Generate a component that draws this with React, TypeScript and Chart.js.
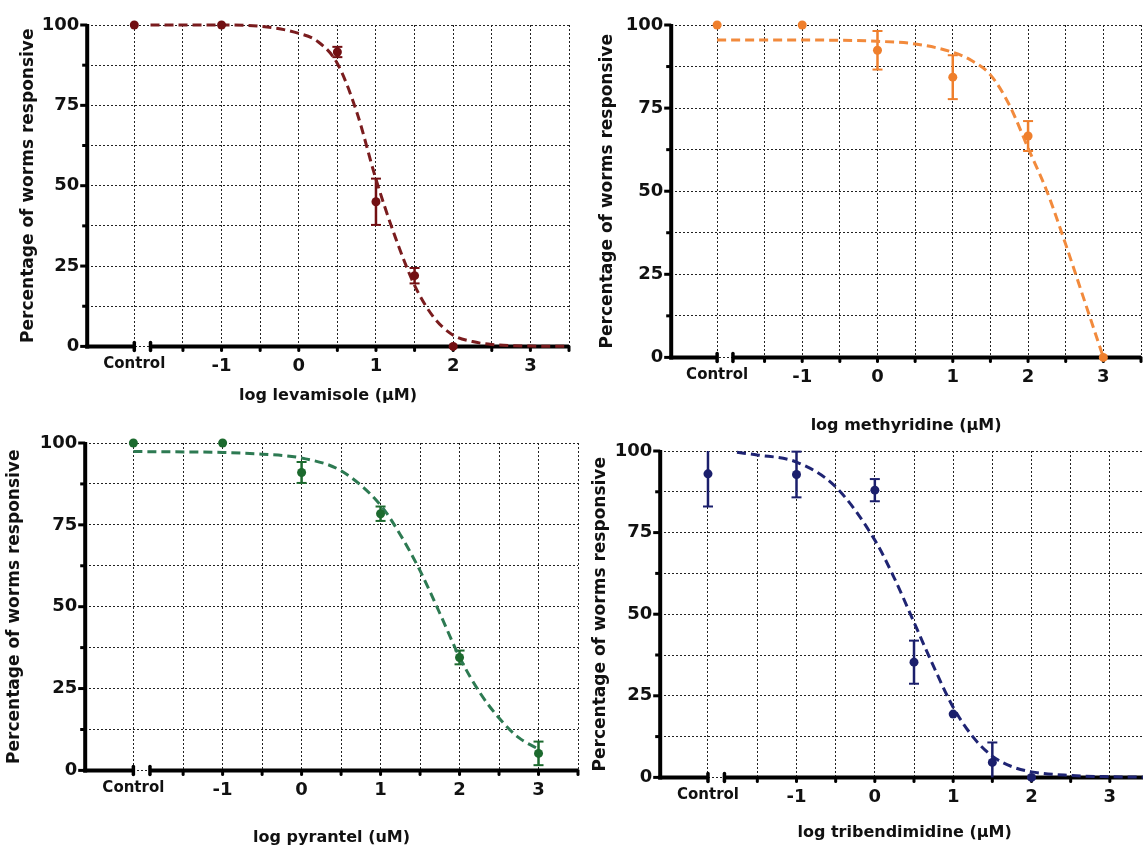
import React, { useEffect, useRef } from "react";
import { Chart, registerables } from "chart.js";

Chart.register(...registerables);

// ---------- shared axis definitions ----------
const X_MIN = -2.74;
const X_MAX = 3.5;
const CONTROL_POS = -2.13; // where the "Control" column sits on the broken axis
const BREAK_POS = -1.92; // start of the log-dose part of the axis
const X_GRID_VALUES = [-1.5, -1, -0.5, 0, 0.5, 1, 1.5, 2, 2.5, 3, 3.5];
const X_TICK_LABELS = ["-1", "0", "1", "2", "3"];
const CONTROL_LABEL = "Control";
const Y_TICK_LABELS = [0, 25, 50, 75, 100];
const Y_TITLE = "Percentage of worms responsive";

// ---------- levamisole ----------
const LEV_DOSES = ["Control", -1, 0.5, 1, 1.5, 2];
const LEV_MEAN = [100, 100, 91.6, 45, 22, 0];
const LEV_ERR = [0, 0, 1.6, 7.2, 2.4, 0];
const LEV_FIT_X = [-1.92, -1.5, -1, -0.5, 0, 0.25, 0.5, 0.75, 1, 1.25, 1.5, 1.75, 2, 2.25, 2.5, 3, 3.5];
const LEV_FIT_Y = [100, 100, 100, 99.6, 97.4, 94.8, 88, 73, 52, 34, 19, 9, 3.5, 1.5, 0.6, 0.1, 0];

// ---------- methyridine ----------
const MET_DOSES = ["Control", -1, 0, 1, 2, 3];
const MET_MEAN = [100, 100, 92.4, 84.3, 66.6, 0];
const MET_ERR = [0, 0, 5.8, 6.6, 4.5, 0];
const MET_FIT_X = [CONTROL_POS, -1, -0.5, 0, 0.5, 1, 1.25, 1.5, 1.75, 2, 2.25, 2.5, 2.75, 3];
const MET_FIT_Y = [95.5, 95.5, 95.4, 95.1, 94.3, 91.8, 89.3, 85, 76, 63, 50, 34, 17, 0];

// ---------- pyrantel ----------
const PYR_DOSES = ["Control", -1, 0, 1, 2, 3];
const PYR_MEAN = [100, 100, 91, 78.4, 34.5, 5.2];
const PYR_ERR = [0, 0, 3.2, 2.2, 2.1, 3.6];
const PYR_FIT_X = [CONTROL_POS, -1, -0.5, 0, 0.5, 1, 1.25, 1.5, 1.75, 2, 2.25, 2.5, 2.75, 3];
const PYR_FIT_Y = [97.4, 97.1, 96.6, 95.4, 91.5, 81, 72, 61, 48, 34.6, 24, 16, 10, 6.5];

// ---------- tribendimidine ----------
const TRI_DOSES = ["Control", -1, 0, 0.5, 1, 1.5, 2];
const TRI_MEAN = [93, 92.8, 88, 35.3, 19.4, 4.6, 0];
const TRI_ERR = [10, 7, 3.4, 6.6, 0, 6.1, 0];
const TRI_FIT_X = [-1.76, -1.5, -1, -0.5, 0, 0.25, 0.5, 0.75, 1, 1.25, 1.5, 1.75, 2, 2.5, 3, 3.5];
const TRI_FIT_Y = [99.6, 98.8, 96.6, 89, 72.7, 61, 47.5, 34, 21.5, 12.5, 6.5, 3.3, 1.7, 0.6, 0.2, 0.05];

const FONT = "'DejaVu Sans', 'Liberation Sans', Arial, sans-serif";
const Y_TITLE_SIZE = 17;
const X_TITLE_SIZE = 16;
const PAD_TOP = 20;
const PAD_RIGHT = 10;

type PanelCfg = {
  key: string;
  doses: (string | number)[];
  mean: number[];
  err: number[];
  fitX: number[];
  fitY: number[];
  xTitle: string;
  pointColor: string;
  lineColor: string;
  // layout (chart area in page pixels)
  left: number;
  top: number;
  right: number;
  bottom: number;
  yTitleX: number;
  xTitleY: number;
};

const PANELS: PanelCfg[] = [
  {
    key: "lev", doses: LEV_DOSES, mean: LEV_MEAN, err: LEV_ERR, fitX: LEV_FIT_X, fitY: LEV_FIT_Y,
    xTitle: "log levamisole (µM)", pointColor: "#720f12", lineColor: "#7a1c1e",
    left: 87, top: 25, right: 569, bottom: 346, yTitleX: 28, xTitleY: 395,
  },
  {
    key: "met", doses: MET_DOSES, mean: MET_MEAN, err: MET_ERR, fitX: MET_FIT_X, fitY: MET_FIT_Y,
    xTitle: "log methyridine (µM)", pointColor: "#ef7f2c", lineColor: "#f28a3c",
    left: 671, top: 25, right: 1141, bottom: 357, yTitleX: 607, xTitleY: 425,
  },
  {
    key: "pyr", doses: PYR_DOSES, mean: PYR_MEAN, err: PYR_ERR, fitX: PYR_FIT_X, fitY: PYR_FIT_Y,
    xTitle: "log pyrantel (uM)", pointColor: "#1c6a2e", lineColor: "#2d7a52",
    left: 85, top: 443, right: 578, bottom: 770, yTitleX: 14, xTitleY: 837,
  },
  {
    key: "tri", doses: TRI_DOSES, mean: TRI_MEAN, err: TRI_ERR, fitX: TRI_FIT_X, fitY: TRI_FIT_Y,
    xTitle: "log tribendimidine (µM)", pointColor: "#1b1f6c", lineColor: "#1f2473",
    left: 660, top: 451, right: 1149, bottom: 777, yTitleX: 600, xTitleY: 832,
  },
];

const dosePos = (d: string | number) => (d === "Control" ? CONTROL_POS : (d as number));

function Panel({ cfg }: { cfg: PanelCfg }) {
  const ref = useRef<HTMLCanvasElement>(null);
  const yAxisW = cfg.left - cfg.yTitleX + (Y_TITLE_SIZE * 1.2) / 2;
  const xAxisH = cfg.xTitleY + (X_TITLE_SIZE * 1.2) / 2 - cfg.bottom;
  const W = Math.round(yAxisW + (cfg.right - cfg.left) + PAD_RIGHT);
  const H = Math.round(PAD_TOP + (cfg.bottom - cfg.top) + xAxisH);
  const canvasLeft = cfg.left - yAxisW;
  const canvasTop = cfg.top - PAD_TOP;

  useEffect(() => {
    const canvas = ref.current!;
    const axesPlugin = {
      id: "axesAndErrors" + cfg.key,
      beforeDatasetsDraw(chart: any) {
        const ctx = chart.ctx as CanvasRenderingContext2D;
        const xs = chart.scales.x;
        const ys = chart.scales.y;
        const { left, right, top, bottom } = chart.chartArea;
        ctx.save();
        ctx.strokeStyle = "#000";
        ctx.fillStyle = "#000";
        // y axis line
        ctx.lineCap = "butt";
        ctx.lineWidth = 4;
        ctx.beginPath();
        ctx.moveTo(left, top - 1);
        ctx.lineTo(left, bottom + 2);
        ctx.stroke();
        // y ticks
        ctx.lineWidth = 3;
        for (let v = 0; v <= 100; v += 12.5) {
          const py = ys.getPixelForValue(v);
          const len = v % 25 === 0 ? 7 : 5;
          ctx.beginPath();
          ctx.moveTo(left - len, py);
          ctx.lineTo(left, py);
          ctx.stroke();
        }
        // x axis (broken)
        const cx = xs.getPixelForValue(CONTROL_POS);
        const bx = xs.getPixelForValue(BREAK_POS);
        ctx.lineWidth = 4;
        ctx.beginPath();
        ctx.moveTo(left - 2, bottom);
        ctx.lineTo(cx, bottom);
        ctx.moveTo(bx, bottom);
        ctx.lineTo(right, bottom);
        ctx.stroke();
        // break caps
        ctx.lineCap = "round";
        ctx.lineWidth = 3.5;
        [cx, bx].forEach((px) => {
          ctx.beginPath();
          ctx.moveTo(px, bottom - 4);
          ctx.lineTo(px, bottom + 4);
          ctx.stroke();
        });
        // x ticks
        ctx.lineWidth = 3;
        X_GRID_VALUES.forEach((v) => {
          const px = xs.getPixelForValue(v);
          ctx.beginPath();
          ctx.moveTo(px, bottom);
          ctx.lineTo(px, bottom + 4);
          ctx.stroke();
        });
        // error bars
        ctx.strokeStyle = cfg.pointColor;
        ctx.lineCap = "butt";
        cfg.doses.forEach((d, i) => {
          const e = cfg.err[i];
          if (!e) return;
          const px = xs.getPixelForValue(dosePos(d));
          const hi = cfg.mean[i] + e;
          const lo = cfg.mean[i] - e;
          const pyHi = ys.getPixelForValue(Math.min(100, hi));
          const pyLo = ys.getPixelForValue(Math.max(0, lo));
          ctx.lineWidth = 2.5;
          ctx.beginPath();
          ctx.moveTo(px, pyHi);
          ctx.lineTo(px, pyLo);
          ctx.stroke();
          ctx.lineWidth = 2;
          if (hi <= 100) {
            ctx.beginPath();
            ctx.moveTo(px - 5, pyHi);
            ctx.lineTo(px + 5, pyHi);
            ctx.stroke();
          }
          if (lo >= 0) {
            ctx.beginPath();
            ctx.moveTo(px - 5, pyLo);
            ctx.lineTo(px + 5, pyLo);
            ctx.stroke();
          }
        });
        ctx.restore();
      },
    };

    const chart = new Chart(canvas, {
      type: "line",
      data: {
        datasets: [
          {
            data: cfg.doses.map((d, i) => ({ x: dosePos(d), y: cfg.mean[i] })),
            showLine: false,
            pointRadius: 4.5,
            pointBackgroundColor: cfg.pointColor,
            pointBorderColor: cfg.pointColor,
            pointBorderWidth: 0,
            clip: false as any,
          },
          {
            data: cfg.fitX.map((x, i) => ({ x, y: cfg.fitY[i] })),
            borderColor: cfg.lineColor,
            borderWidth: 3,
            borderDash: [9, 5],
            pointRadius: 0,
            fill: false,
            cubicInterpolationMode: "monotone",
            clip: false as any,
          },
        ],
      },
      options: {
        responsive: false,
        animation: false,
        events: [],
        devicePixelRatio: 1,
        layout: { padding: { top: PAD_TOP, right: PAD_RIGHT, left: 0, bottom: 0 } },
        plugins: { legend: { display: false }, tooltip: { enabled: false } },
        scales: {
          x: {
            type: "linear",
            min: X_MIN,
            max: X_MAX,
            afterBuildTicks: (scale: any) => {
              scale.ticks = [CONTROL_POS, ...X_GRID_VALUES].map((v) => ({ value: v }));
            },
            afterFit: (scale: any) => {
              scale.height = xAxisH;
            },
            grid: { color: "#222", lineWidth: 1, drawTicks: false },
            border: { display: false, dash: [2, 2] },
            ticks: {
              autoSkip: false,
              maxRotation: 0,
              minRotation: 0,
              padding: 9,
              color: "#111",
              font: (c: any) =>
                c.tick && c.tick.value === CONTROL_POS
                  ? { family: FONT, size: 15, weight: "bold" }
                  : { family: FONT, size: 18, weight: "bold" },
              callback: (v: any) => {
                if (v === CONTROL_POS) return CONTROL_LABEL;
                const s = String(v);
                return X_TICK_LABELS.includes(s) ? s : "";
              },
            },
            title: {
              display: true,
              text: cfg.xTitle,
              color: "#111",
              padding: 0,
              font: { family: FONT, size: X_TITLE_SIZE, weight: "bold" },
            },
          },
          y: {
            type: "linear",
            min: 0,
            max: 100,
            afterFit: (scale: any) => {
              scale.width = yAxisW;
            },
            grid: { color: "#222", lineWidth: 1, drawTicks: false },
            border: { display: false, dash: [2, 2] },
            ticks: {
              stepSize: 12.5,
              autoSkip: false,
              padding: 8,
              color: "#111",
              font: { family: FONT, size: 18, weight: "bold" },
              callback: (v: any) => (Y_TICK_LABELS.includes(v) ? String(v) : ""),
            },
            title: {
              display: true,
              text: Y_TITLE,
              color: "#111",
              padding: 0,
              font: { family: FONT, size: Y_TITLE_SIZE, weight: "bold" },
            },
          },
        },
      } as any,
      plugins: [axesPlugin],
    });
    return () => chart.destroy();
  }, []);

  return (
    <canvas
      ref={ref}
      width={W}
      height={H}
      style={{ position: "absolute", left: canvasLeft, top: canvasTop, width: W, height: H }}
    />
  );
}

export default function App() {
  return (
    <div
      style={{
        position: "absolute",
        left: 0,
        top: 0,
        width: 1143,
        height: 848,
        overflow: "hidden",
        background: "#fff",
      }}
    >
      {PANELS.map((p) => (
        <Panel key={p.key} cfg={p} />
      ))}
    </div>
  );
}
